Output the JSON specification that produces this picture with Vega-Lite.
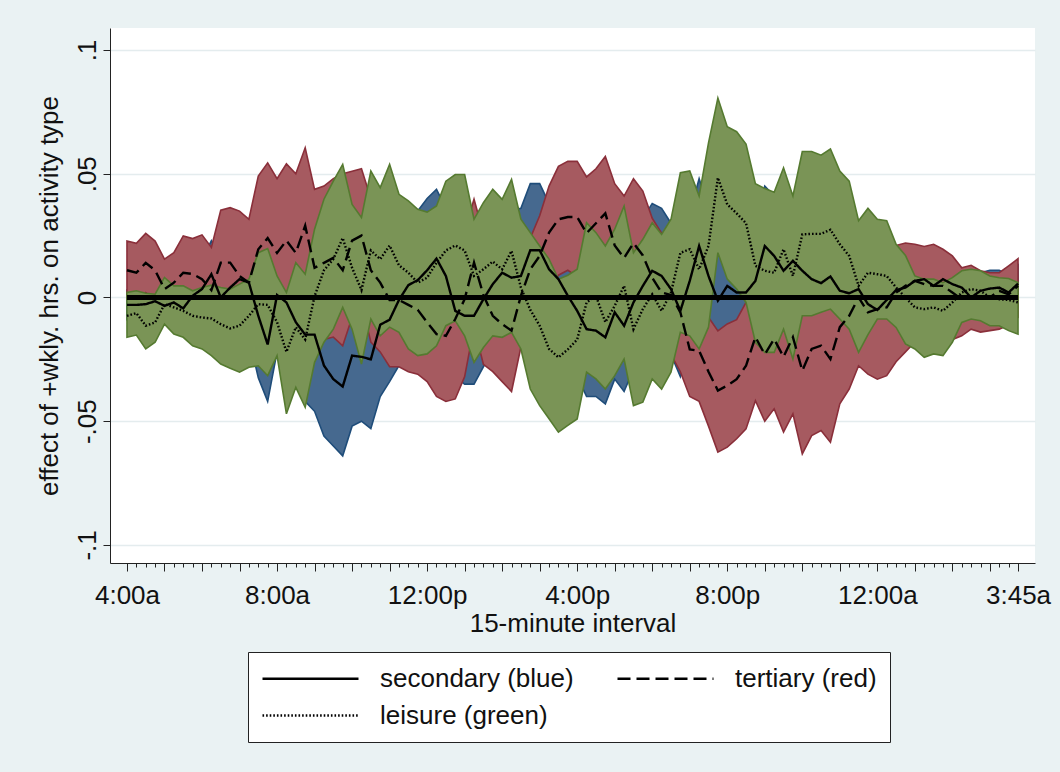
{
"$schema": "https://vega.github.io/schema/vega-lite/v6.json",
"width": 925, "height": 535,
"autosize": {"type": "none"},
"padding": {"left": 110, "top": 28, "right": 25, "bottom": 209},
"background": "#EAF2F3",
"config": {"view": {"fill": "white", "stroke": null}, "font": "Liberation Sans"},
"data": {"values": [
{"i":0,"s":-0.003,"bl":-0.009,"bu":0.003,"t":0.011,"rl":-0.0008,"ru":0.0228,"l":-0.0074,"gl":-0.0161,"gu":0.002},
{"i":1,"s":-0.003,"bl":-0.009,"bu":0.003,"t":0.010,"rl":-0.002,"ru":0.0219,"l":-0.0063,"gl":-0.0152,"gu":0.0027},
{"i":2,"s":-0.0027,"bl":-0.0087,"bu":0.0033,"t":0.014,"rl":0.002,"ru":0.0259,"l":-0.0114,"gl":-0.0208,"gu":0.0017},
{"i":3,"s":-0.0015,"bl":-0.0075,"bu":0.0045,"t":0.011,"rl":-0.001,"ru":0.0228,"l":-0.0101,"gl":-0.0181,"gu":0.0013},
{"i":4,"s":-0.0034,"bl":-0.0094,"bu":0.0026,"t":0.0034,"rl":-0.009,"ru":0.0155,"l":-0.0027,"gl":-0.0108,"gu":0.0081},
{"i":5,"s":-0.002,"bl":-0.009,"bu":0.005,"t":0.006,"rl":-0.006,"ru":0.0181,"l":-0.004,"gl":-0.0148,"gu":0.0047},
{"i":6,"s":-0.0044,"bl":-0.0124,"bu":0.0036,"t":0.010,"rl":-0.005,"ru":0.0249,"l":-0.0054,"gl":-0.0161,"gu":0.0047},
{"i":7,"s":0.0007,"bl":-0.0093,"bu":0.0107,"t":0.0095,"rl":-0.005,"ru":0.0238,"l":-0.0074,"gl":-0.0195,"gu":0.0027},
{"i":8,"s":0.0034,"bl":-0.0086,"bu":0.0154,"t":0.0074,"rl":-0.0105,"ru":0.0253,"l":-0.0081,"gl":-0.0208,"gu":0.004},
{"i":9,"s":0.0094,"bl":-0.0041,"bu":0.0229,"t":0.003,"rl":-0.014,"ru":0.0202,"l":-0.0085,"gl":-0.0235,"gu":0.005},
{"i":10,"s":0.0,"bl":-0.016,"bu":0.016,"t":0.0141,"rl":-0.007,"ru":0.0353,"l":-0.0108,"gl":-0.0269,"gu":0.004},
{"i":11,"s":0.004,"bl":-0.014,"bu":0.022,"t":0.0141,"rl":-0.008,"ru":0.0363,"l":-0.0125,"gl":-0.0286,"gu":0.0034},
{"i":12,"s":0.0074,"bl":-0.0126,"bu":0.0274,"t":0.0087,"rl":-0.0175,"ru":0.0349,"l":-0.0114,"gl":-0.0302,"gu":0.0054},
{"i":13,"s":0.006,"bl":-0.016,"bu":0.028,"t":0.006,"rl":-0.0196,"ru":0.0316,"l":-0.0074,"gl":-0.0282,"gu":0.0074},
{"i":14,"s":-0.0074,"bl":-0.0324,"bu":0.0176,"t":0.0195,"rl":-0.010,"ru":0.0491,"l":-0.0027,"gl":-0.0276,"gu":0.0181},
{"i":15,"s":-0.019,"bl":-0.042,"bu":0.004,"t":0.024,"rl":-0.0064,"ru":0.0544,"l":-0.003,"gl":-0.0316,"gu":0.0198},
{"i":16,"s":0.001,"bl":-0.022,"bu":0.024,"t":0.018,"rl":-0.012,"ru":0.048,"l":-0.010,"gl":-0.0235,"gu":0.0087},
{"i":17,"s":-0.002,"bl":-0.026,"bu":0.022,"t":0.023,"rl":-0.008,"ru":0.054,"l":-0.022,"gl":-0.047,"gu":0.002},
{"i":18,"s":-0.010,"bl":-0.036,"bu":0.016,"t":0.018,"rl":-0.012,"ru":0.050,"l":-0.012,"gl":-0.0363,"gu":0.0141},
{"i":19,"s":-0.015,"bl":-0.042,"bu":0.012,"t":0.029,"rl":-0.002,"ru":0.0605,"l":-0.017,"gl":-0.0444,"gu":0.0094},
{"i":20,"s":-0.015,"bl":-0.046,"bu":0.014,"t":0.012,"rl":-0.020,"ru":0.0437,"l":0.0005,"gl":-0.0262,"gu":0.0276},
{"i":21,"s":-0.0275,"bl":-0.056,"bu":0.001,"t":0.014,"rl":-0.017,"ru":0.045,"l":0.011,"gl":-0.0181,"gu":0.0397},
{"i":22,"s":-0.033,"bl":-0.060,"bu":-0.006,"t":0.016,"rl":-0.016,"ru":0.048,"l":0.0155,"gl":-0.0128,"gu":0.047},
{"i":23,"s":-0.036,"bl":-0.064,"bu":-0.008,"t":0.011,"rl":-0.0195,"ru":0.050,"l":0.024,"gl":-0.004,"gu":0.0538},
{"i":24,"s":-0.0235,"bl":-0.052,"bu":0.005,"t":0.023,"rl":-0.008,"ru":0.051,"l":0.012,"gl":-0.0128,"gu":0.0376},
{"i":25,"s":-0.024,"bl":-0.050,"bu":0.002,"t":0.025,"rl":-0.002,"ru":0.052,"l":0.003,"gl":-0.0269,"gu":0.0323},
{"i":26,"s":-0.025,"bl":-0.053,"bu":0.003,"t":0.011,"rl":-0.018,"ru":0.040,"l":0.019,"gl":-0.0087,"gu":0.0511},
{"i":27,"s":-0.011,"bl":-0.040,"bu":0.018,"t":0.006,"rl":-0.022,"ru":0.035,"l":0.0155,"gl":-0.0155,"gu":0.0444},
{"i":28,"s":-0.009,"bl":-0.034,"bu":0.016,"t":-0.001,"rl":-0.028,"ru":0.026,"l":0.021,"gl":-0.012,"gu":0.0538},
{"i":29,"s":-0.001,"bl":-0.0275,"bu":0.0255,"t":-0.001,"rl":-0.028,"ru":0.025,"l":0.013,"gl":-0.0141,"gu":0.0417},
{"i":30,"s":0.005,"bl":-0.022,"bu":0.032,"t":-0.003,"rl":-0.030,"ru":0.022,"l":0.010,"gl":-0.0208,"gu":0.039},
{"i":31,"s":0.007,"bl":-0.020,"bu":0.035,"t":-0.005,"rl":-0.031,"ru":0.021,"l":0.006,"gl":-0.0235,"gu":0.0356},
{"i":32,"s":0.011,"bl":-0.016,"bu":0.040,"t":-0.010,"rl":-0.034,"ru":0.015,"l":0.008,"gl":-0.0228,"gu":0.0345},
{"i":33,"s":0.0157,"bl":-0.0113,"bu":0.0437,"t":-0.0148,"rl":-0.040,"ru":0.010,"l":0.014,"gl":-0.0195,"gu":0.037},
{"i":34,"s":0.0087,"bl":-0.018,"bu":0.036,"t":-0.0155,"rl":-0.042,"ru":0.011,"l":0.019,"gl":-0.0114,"gu":0.047},
{"i":35,"s":-0.0054,"bl":-0.032,"bu":0.021,"t":-0.0087,"rl":-0.041,"ru":0.018,"l":0.021,"gl":-0.0094,"gu":0.0497},
{"i":36,"s":-0.0074,"bl":-0.035,"bu":0.020,"t":-0.0007,"rl":-0.032,"ru":0.027,"l":0.019,"gl":-0.0155,"gu":0.0497},
{"i":37,"s":-0.0074,"bl":-0.035,"bu":0.020,"t":0.0141,"rl":-0.012,"ru":0.0397,"l":0.0087,"gl":-0.0262,"gu":0.0316},
{"i":38,"s":-0.0007,"bl":-0.028,"bu":0.026,"t":0.001,"rl":-0.027,"ru":0.026,"l":0.0114,"gl":-0.0202,"gu":0.0383},
{"i":39,"s":0.0054,"bl":-0.022,"bu":0.032,"t":-0.0074,"rl":-0.030,"ru":0.017,"l":0.0145,"gl":-0.0155,"gu":0.0437},
{"i":40,"s":0.010,"bl":-0.017,"bu":0.037,"t":-0.0108,"rl":-0.034,"ru":0.013,"l":0.0114,"gl":-0.0161,"gu":0.0397},
{"i":41,"s":0.008,"bl":-0.019,"bu":0.035,"t":-0.0134,"rl":-0.038,"ru":0.011,"l":0.0188,"gl":-0.0141,"gu":0.0477},
{"i":42,"s":0.0087,"bl":-0.018,"bu":0.036,"t":0.0007,"rl":-0.020,"ru":0.022,"l":0.004,"gl":-0.0208,"gu":0.0316},
{"i":43,"s":0.0191,"bl":-0.008,"bu":0.046,"t":0.0114,"rl":-0.012,"ru":0.024,"l":-0.005,"gl":-0.037,"gu":0.0262},
{"i":44,"s":0.0191,"bl":-0.008,"bu":0.046,"t":0.0168,"rl":-0.007,"ru":0.033,"l":-0.0114,"gl":-0.0437,"gu":0.0208},
{"i":45,"s":0.0114,"bl":-0.016,"bu":0.038,"t":0.0262,"rl":0.002,"ru":0.045,"l":-0.0208,"gl":-0.049,"gu":0.0155},
{"i":46,"s":0.0074,"bl":-0.020,"bu":0.034,"t":0.0316,"rl":0.009,"ru":0.053,"l":-0.0242,"gl":-0.0544,"gu":0.0074},
{"i":47,"s":0.0007,"bl":-0.026,"bu":0.028,"t":0.0325,"rl":0.011,"ru":0.055,"l":-0.021,"gl":-0.0517,"gu":0.009},
{"i":48,"s":-0.0054,"bl":-0.032,"bu":0.021,"t":0.0325,"rl":0.0085,"ru":0.055,"l":-0.017,"gl":-0.0491,"gu":0.0114},
{"i":49,"s":-0.0128,"bl":-0.040,"bu":0.014,"t":0.026,"rl":0.002,"ru":0.0487,"l":-0.002,"gl":-0.0302,"gu":0.0302},
{"i":50,"s":-0.0134,"bl":-0.040,"bu":0.013,"t":0.030,"rl":0.006,"ru":0.052,"l":0.0007,"gl":-0.0329,"gu":0.0262},
{"i":51,"s":-0.0161,"bl":-0.043,"bu":0.011,"t":0.034,"rl":0.011,"ru":0.057,"l":-0.010,"gl":-0.037,"gu":0.0208},
{"i":52,"s":-0.006,"bl":-0.033,"bu":0.021,"t":0.021,"rl":-0.003,"ru":0.046,"l":-0.0034,"gl":-0.0316,"gu":0.0276},
{"i":53,"s":-0.0114,"bl":-0.038,"bu":0.015,"t":0.016,"rl":-0.009,"ru":0.041,"l":0.0047,"gl":-0.0249,"gu":0.037},
{"i":54,"s":-0.002,"bl":-0.029,"bu":0.025,"t":0.022,"rl":-0.002,"ru":0.048,"l":-0.0128,"gl":-0.0437,"gu":0.0181},
{"i":55,"s":0.0047,"bl":-0.022,"bu":0.032,"t":0.017,"rl":-0.009,"ru":0.043,"l":-0.0047,"gl":-0.0423,"gu":0.0235},
{"i":56,"s":0.0108,"bl":-0.016,"bu":0.038,"t":0.008,"rl":-0.017,"ru":0.032,"l":0.0013,"gl":-0.0329,"gu":0.0302},
{"i":57,"s":0.0087,"bl":-0.018,"bu":0.036,"t":0.002,"rl":-0.022,"ru":0.026,"l":-0.0054,"gl":-0.037,"gu":0.0255},
{"i":58,"s":0.0034,"bl":-0.023,"bu":0.030,"t":0.001,"rl":-0.023,"ru":0.025,"l":0.002,"gl":-0.0302,"gu":0.0316},
{"i":59,"s":-0.0054,"bl":-0.032,"bu":0.021,"t":-0.006,"rl":-0.030,"ru":0.018,"l":0.018,"gl":-0.0141,"gu":0.0504},
{"i":60,"s":0.0067,"bl":-0.020,"bu":0.034,"t":-0.021,"rl":-0.040,"ru":0.003,"l":0.0195,"gl":-0.0155,"gu":0.0511},
{"i":61,"s":0.0208,"bl":-0.006,"bu":0.048,"t":-0.0215,"rl":-0.042,"ru":0.0,"l":0.0114,"gl":-0.0208,"gu":0.041},
{"i":62,"s":0.0087,"bl":-0.018,"bu":0.036,"t":-0.030,"rl":-0.052,"ru":-0.008,"l":0.0208,"gl":-0.012,"gu":0.0625},
{"i":63,"s":-0.0013,"bl":-0.027,"bu":0.025,"t":-0.0376,"rl":-0.0625,"ru":-0.0135,"l":0.0484,"gl":0.0181,"gu":0.0806},
{"i":64,"s":0.0047,"bl":-0.019,"bu":0.029,"t":-0.0356,"rl":-0.0605,"ru":-0.0107,"l":0.0376,"gl":0.0074,"gu":0.069},
{"i":65,"s":0.002,"bl":-0.022,"bu":0.026,"t":-0.033,"rl":-0.0571,"ru":-0.009,"l":0.034,"gl":0.0034,"gu":0.067},
{"i":66,"s":0.002,"bl":-0.022,"bu":0.026,"t":-0.0276,"rl":-0.0531,"ru":-0.002,"l":0.030,"gl":-0.002,"gu":0.062},
{"i":67,"s":0.0067,"bl":-0.017,"bu":0.031,"t":-0.016,"rl":-0.0417,"ru":0.0097,"l":0.0128,"gl":-0.0181,"gu":0.046},
{"i":68,"s":0.0208,"bl":-0.003,"bu":0.045,"t":-0.023,"rl":-0.050,"ru":0.004,"l":0.0108,"gl":-0.0222,"gu":0.044},
{"i":69,"s":0.0168,"bl":-0.007,"bu":0.041,"t":-0.0168,"rl":-0.045,"ru":0.0114,"l":0.010,"gl":-0.0222,"gu":0.0425},
{"i":70,"s":0.0108,"bl":-0.013,"bu":0.035,"t":-0.024,"rl":-0.0544,"ru":0.0064,"l":0.0195,"gl":-0.0128,"gu":0.0524},
{"i":71,"s":0.0148,"bl":-0.007,"bu":0.037,"t":-0.016,"rl":-0.047,"ru":0.015,"l":0.0087,"gl":-0.0249,"gu":0.041},
{"i":72,"s":0.0108,"bl":-0.010,"bu":0.032,"t":-0.0296,"rl":-0.0632,"ru":0.004,"l":0.0255,"gl":-0.0074,"gu":0.059},
{"i":73,"s":0.0074,"bl":-0.013,"bu":0.027,"t":-0.0208,"rl":-0.0558,"ru":0.0142,"l":0.0257,"gl":-0.0074,"gu":0.059},
{"i":74,"s":0.0058,"bl":-0.013,"bu":0.025,"t":-0.0195,"rl":-0.0538,"ru":0.0148,"l":0.0257,"gl":-0.006,"gu":0.0575},
{"i":75,"s":0.0085,"bl":-0.0095,"bu":0.0265,"t":-0.0249,"rl":-0.0585,"ru":0.0087,"l":0.0274,"gl":-0.0047,"gu":0.060},
{"i":76,"s":0.0027,"bl":-0.014,"bu":0.020,"t":-0.012,"rl":-0.043,"ru":0.019,"l":0.0215,"gl":-0.0087,"gu":0.0511},
{"i":77,"s":0.0017,"bl":-0.014,"bu":0.018,"t":-0.0074,"rl":-0.037,"ru":0.022,"l":0.0168,"gl":-0.0128,"gu":0.047},
{"i":78,"s":0.0034,"bl":-0.012,"bu":0.018,"t":0.0,"rl":-0.0276,"ru":0.0276,"l":0.0047,"gl":-0.0222,"gu":0.031},
{"i":79,"s":-0.0027,"bl":-0.017,"bu":0.011,"t":-0.006,"rl":-0.031,"ru":0.019,"l":0.010,"gl":-0.015,"gu":0.036},
{"i":80,"s":-0.005,"bl":-0.018,"bu":0.008,"t":-0.0047,"rl":-0.033,"ru":0.021,"l":0.0094,"gl":-0.0087,"gu":0.0316},
{"i":81,"s":-0.001,"bl":-0.013,"bu":0.011,"t":-0.004,"rl":-0.0316,"ru":0.021,"l":0.0087,"gl":-0.0087,"gu":0.031},
{"i":82,"s":0.003,"bl":-0.008,"bu":0.014,"t":0.002,"rl":-0.026,"ru":0.021,"l":0.004,"gl":-0.0121,"gu":0.0215},
{"i":83,"s":0.004,"bl":-0.007,"bu":0.015,"t":0.0047,"rl":-0.022,"ru":0.022,"l":0.0,"gl":-0.0188,"gu":0.017},
{"i":84,"s":0.0067,"bl":-0.003,"bu":0.017,"t":0.0067,"rl":-0.018,"ru":0.0215,"l":-0.004,"gl":-0.0208,"gu":0.0087},
{"i":85,"s":0.0074,"bl":-0.003,"bu":0.017,"t":0.0054,"rl":-0.016,"ru":0.0206,"l":-0.0047,"gl":-0.0242,"gu":0.0074},
{"i":86,"s":0.0047,"bl":-0.004,"bu":0.014,"t":0.0047,"rl":-0.015,"ru":0.0215,"l":-0.004,"gl":-0.0228,"gu":0.0074},
{"i":87,"s":0.0074,"bl":-0.002,"bu":0.016,"t":0.0047,"rl":-0.015,"ru":0.0195,"l":-0.0054,"gl":-0.0235,"gu":0.006},
{"i":88,"s":0.0054,"bl":-0.004,"bu":0.014,"t":0.002,"rl":-0.017,"ru":0.0168,"l":-0.002,"gl":-0.0181,"gu":0.008},
{"i":89,"s":0.004,"bl":-0.004,"bu":0.012,"t":-0.0007,"rl":-0.0155,"ru":0.012,"l":0.002,"gl":-0.0101,"gu":0.0108},
{"i":90,"s":0.0,"bl":-0.008,"bu":0.008,"t":0.0,"rl":-0.0128,"ru":0.013,"l":0.0034,"gl":-0.0087,"gu":0.0114},
{"i":91,"s":0.0027,"bl":-0.004,"bu":0.010,"t":0.0007,"rl":-0.014,"ru":0.0108,"l":0.0027,"gl":-0.0094,"gu":0.0108},
{"i":92,"s":0.0036,"bl":-0.003,"bu":0.011,"t":0.0,"rl":-0.0134,"ru":0.010,"l":0.0,"gl":-0.0114,"gu":0.0087},
{"i":93,"s":0.004,"bl":-0.003,"bu":0.011,"t":0.0027,"rl":-0.0128,"ru":0.010,"l":-0.0007,"gl":-0.0114,"gu":0.008},
{"i":94,"s":0.002,"bl":-0.005,"bu":0.009,"t":0.0013,"rl":-0.011,"ru":0.0128,"l":-0.001,"gl":-0.0134,"gu":0.0077},
{"i":95,"s":0.0056,"bl":-0.001,"bu":0.013,"t":0.0047,"rl":-0.008,"ru":0.0157,"l":-0.002,"gl":-0.0148,"gu":0.006}
]},
"encoding": {
  "x": {"field": "i", "type": "quantitative",
    "scale": {"domain": [-1.81, 96.81], "nice": false, "zero": false},
    "axis": {
      "values": [0,1,2,3,4,5,6,7,8,9,10,11,12,13,14,15,16,17,18,19,20,21,22,23,24,25,26,27,28,29,30,31,32,33,34,35,36,37,38,39,40,41,42,43,44,45,46,47,48,49,50,51,52,53,54,55,56,57,58,59,60,61,62,63,64,65,66,67,68,69,70,71,72,73,74,75,76,77,78,79,80,81,82,83,84,85,86,87,88,89,90,91,92,93,94,95],
      "labelExpr": "datum.value == 0 ? '4:00a' : datum.value == 16 ? '8:00a' : datum.value == 32 ? '12:00p' : datum.value == 48 ? '4:00p' : datum.value == 64 ? '8:00p' : datum.value == 80 ? '12:00a' : datum.value == 95 ? '3:45a' : ''",
      "tickSize": {"condition": {"test": "datum.value % 4 === 0 || datum.value === 95", "value": 8}, "value": 4},
      "tickColor": "#222222", "tickWidth": 1, "domainColor": "#222222", "domainWidth": 1,
      "labelOverlap": false, "labelFlush": false, "labelBound": false,
      "grid": false, "labelFontSize": 26, "labelColor": "#111111", "labelPadding": 11,
      "title": "15-minute interval", "titleFontSize": 26, "titleFontWeight": "normal", "titleColor": "#111111", "titlePadding": 2
    }
  }
},
"layer": [
  {"mark": {"type": "area", "fill": "#46698F", "fillOpacity": 1, "stroke": "#1F4D7A", "strokeWidth": 1.6},
   "encoding": {
     "y": {"field": "bl", "type": "quantitative", "title": "effect of +wkly. hrs. on activity type",
       "scale": {"domain": [-0.1073, 0.1089], "nice": false, "zero": false},
       "axis": {
         "values": [-0.1, -0.05, 0, 0.05, 0.1],
         "labelExpr": "datum.value == 0 ? '0' : datum.value == 0.1 ? '.1' : datum.value == 0.05 ? '.05' : datum.value == -0.05 ? '-.05' : '-.1'",
         "labelAngle": -90, "labelAlign": "center", "labelBaseline": "bottom",
         "labelFontSize": 26, "labelColor": "#111111", "labelPadding": 3,
         "tickSize": 7, "tickColor": "#222222", "domainColor": "#222222",
         "grid": true, "gridColor": "#E4ECEE", "gridWidth": 1.5,
         "titleFontSize": 26, "titleFontWeight": "normal", "titleColor": "#111111", "titlePadding": 12
       }},
     "y2": {"field": "bu"}
   }},
  {"mark": {"type": "area", "fill": "#A65A60", "fillOpacity": 1, "stroke": "#8A2F3A", "strokeWidth": 1.6},
   "encoding": {
     "y": {"field": "rl", "type": "quantitative", "title": "effect of +wkly. hrs. on activity type", "scale": {"domain": [-0.1073, 0.1089], "nice": false, "zero": false}},
     "y2": {"field": "ru"}
   }},
  {"mark": {"type": "area", "fill": "#7A9456", "fillOpacity": 1, "stroke": "#557A30", "strokeWidth": 1.6},
   "encoding": {
     "y": {"field": "gl", "type": "quantitative", "title": "effect of +wkly. hrs. on activity type", "scale": {"domain": [-0.1073, 0.1089], "nice": false, "zero": false}},
     "y2": {"field": "gu"}
   }},
  {"mark": {"type": "rule", "color": "black", "strokeWidth": 5},
   "encoding": {
     "x": {"aggregate": "min", "field": "i", "type": "quantitative"},
     "x2": {"aggregate": "max", "field": "i"},
     "y": {"datum": 0, "type": "quantitative"}
   }},
  {"transform": [{"fold": ["s", "t", "l"], "as": ["key", "value"]}],
   "mark": {"type": "line", "color": "black", "strokeWidth": 2.4},
   "encoding": {
     "y": {"field": "value", "type": "quantitative", "title": "effect of +wkly. hrs. on activity type", "scale": {"domain": [-0.1073, 0.1089], "nice": false, "zero": false}},
     "strokeDash": {"field": "key", "type": "nominal",
       "scale": {"domain": ["s", "t", "l"], "range": [[1, 0], [13, 6], [1.6, 2]]},
       "legend": {
         "orient": "none", "legendX": 138, "legendY": 624,
         "direction": "horizontal", "columns": 2, "title": null,
         "symbolType": "M-1,0H7", "symbolSize": 576, "symbolStrokeWidth": 2.4,
         "symbolStrokeColor": "black", "symbolFillColor": "transparent",
         "labelExpr": "datum.label == 's' ? 'secondary (blue)' : datum.label == 't' ? 'tertiary (red)' : 'leisure (green)'",
         "labelFontSize": 26, "labelColor": "#111111", "labelOffset": 92, "labelLimit": 500,
         "columnPadding": 38, "rowPadding": 10, "padding": 13,
         "fillColor": "white", "strokeColor": "#222222"
       }}
   }}
]
}
